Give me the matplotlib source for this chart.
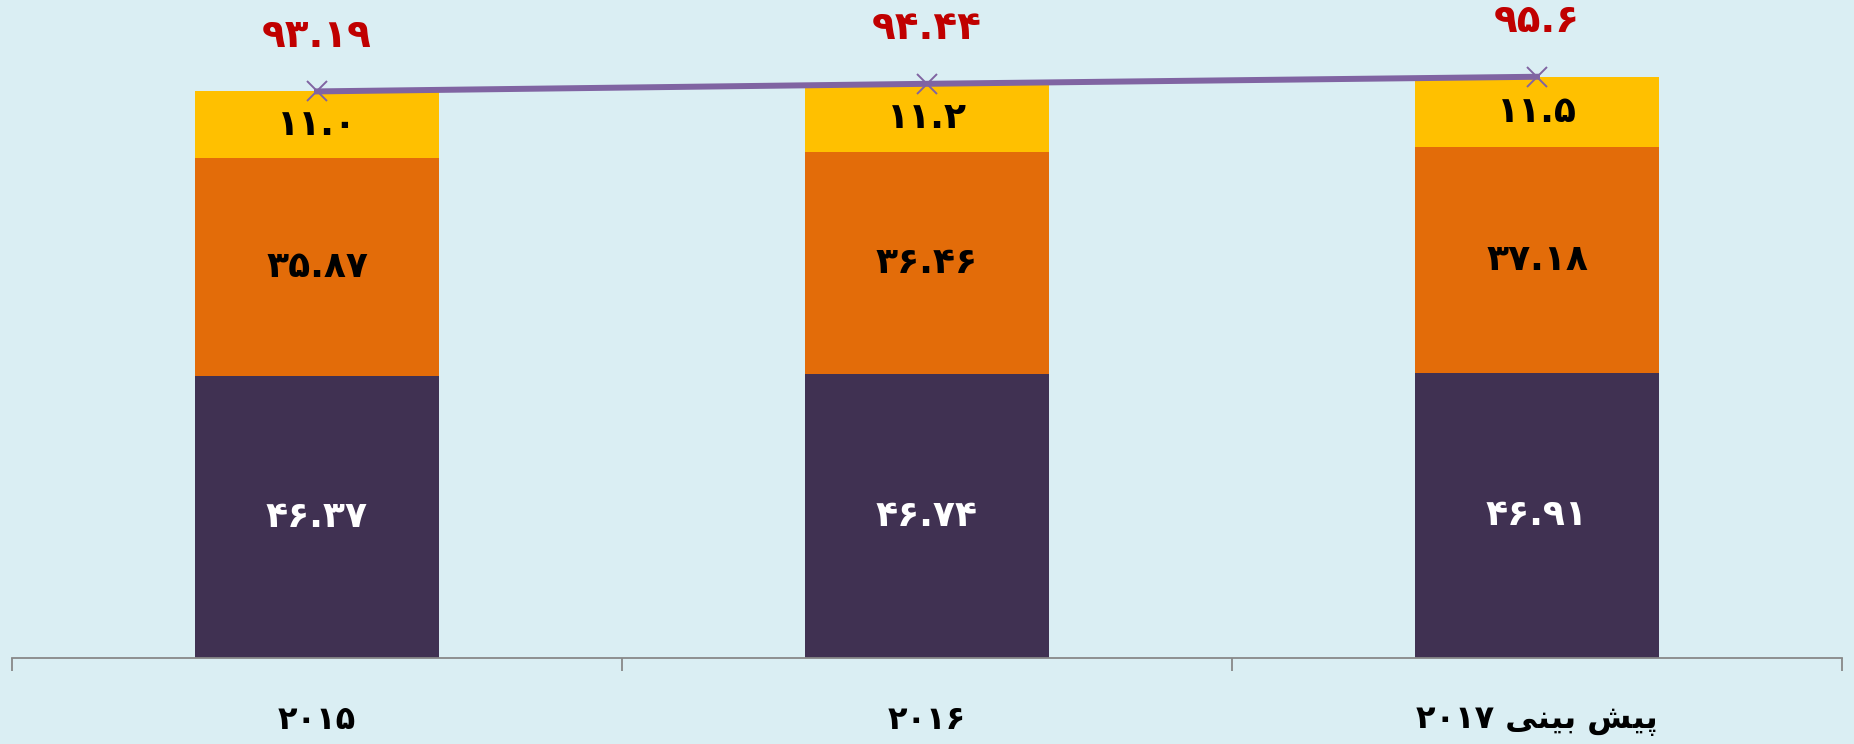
import matplotlib
matplotlib.use("Agg")
import matplotlib.pyplot as plt
import numpy as np

# visual (pre-shaped, left-to-right) labels
categories = ["۲۰۱۵", "۲۰۱۶", "۲۰۱۷ " + "\uFBFD\uFEE8\uFBFF\uFE91" + " " + "\uFEB6\uFBFF\uFB58"]
bottom_vals = [46.37, 46.74, 46.91]
middle_vals = [35.87, 36.46, 37.18]
top_vals = [11.0, 11.2, 11.5]
total_vals = [93.19, 94.44, 95.6]

bottom_labels = ["۴۶.۳۷", "۴۶.۷۴", "۴۶.۹۱"]
middle_labels = ["۳۵.۸۷", "۳۶.۴۶", "۳۷.۱۸"]
top_labels = ["۱۱.۰", "۱۱.۲", "۱۱.۵"]
total_labels = ["۹۳.۱۹", "۹۴.۴۴", "۹۵.۶"]

bg = "#DAEEF3"
plt.rcParams['font.family'] = ['DejaVu Sans']
fig = plt.figure(figsize=(18.54, 7.44), dpi=100, facecolor=bg)
ax = fig.add_axes([12/1854, (744-658)/744, 1830/1854, 608/744])
ax.set_facecolor(bg)

x = np.arange(len(categories))
w = 0.4
b1 = ax.bar(x, bottom_vals, w, color="#403152")
b2 = ax.bar(x, middle_vals, w, bottom=bottom_vals, color="#E36C09")
btm2 = np.array(bottom_vals) + np.array(middle_vals)
b3 = ax.bar(x, top_vals, w, bottom=btm2, color="#FFC000")

ax.bar_label(b1, labels=bottom_labels, label_type='center', color='white', fontsize=26, fontweight='bold')
ax.bar_label(b2, labels=middle_labels, label_type='center', color='black', fontsize=26, fontweight='bold')
ax.bar_label(b3, labels=top_labels, label_type='center', color='black', fontsize=26, fontweight='bold')

ax.plot(x, total_vals, color="#8064A2", lw=4.3, marker='x', markersize=15, markeredgewidth=1.4, zorder=5)
for xi, v, lab in zip(x, total_vals, total_labels):
    ax.annotate(lab, (xi, v), xytext=(0, 40), textcoords='offset points', ha='center', va='center',
                color="#C00000", fontsize=28, fontweight='bold', annotation_clip=False)

ax.set_xlim(-0.5, 2.5)
ax.set_ylim(0, 100)
for s in ['top', 'right', 'left']:
    ax.spines[s].set_visible(False)
ax.spines['bottom'].set_color('#888888')
ax.spines['bottom'].set_linewidth(1.3)
ax.set_yticks([])
ax.set_xticks([-0.5, 0.5, 1.5, 2.5])
ax.set_xticklabels([])
ax.tick_params(axis='x', length=9, color='#888888', width=1.3)
ax.set_xticks(x, minor=True)
ax.set_xticklabels(categories, minor=True, fontsize=23, fontweight='bold')
ax.tick_params(axis='x', which='minor', length=0, pad=34)

fig.savefig("out.png", dpi=100, facecolor=bg)
